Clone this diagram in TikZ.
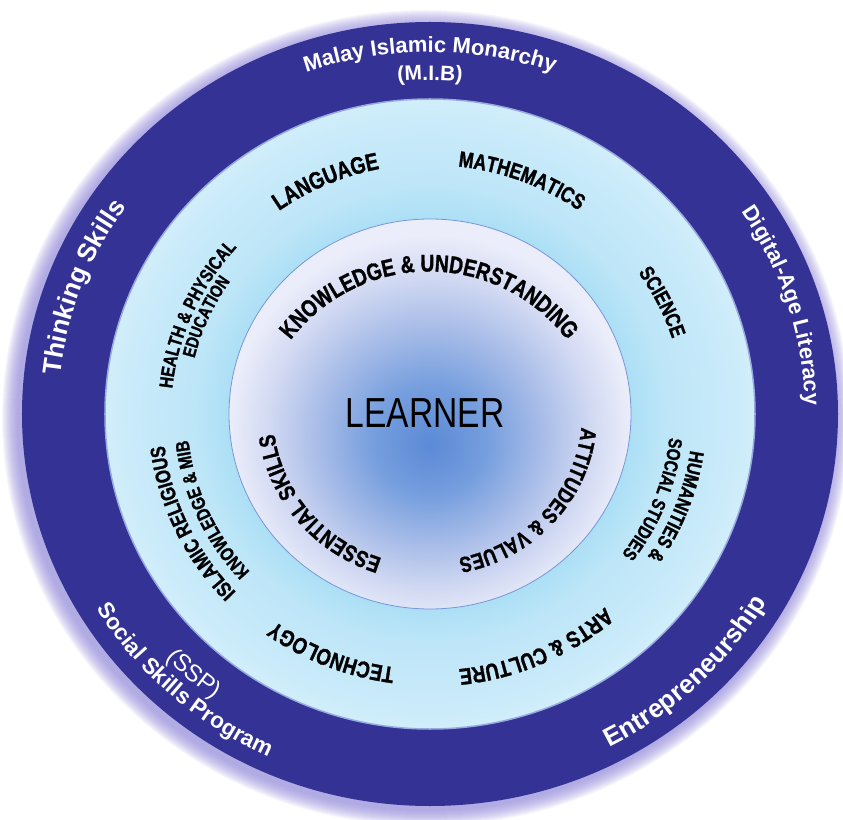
\documentclass[tikz,border=0pt]{standalone}
\usepackage{fontspec}
\setmainfont{Liberation Sans}
\newfontfamily\narrowfont[FakeStretch=0.8, BoldFeatures={FakeBold=1.3}]{Liberation Sans}
\usetikzlibrary{decorations.text}

\definecolor{ringblue}{RGB}{52,50,148}
\definecolor{ringglow}{RGB}{150,140,222}
\definecolor{ringline}{RGB}{150,170,225}
\definecolor{coreline}{RGB}{120,150,215}

\pgfdeclareradialshading{subjectshade}{\pgfpoint{0bp}{0bp}}{%
  rgb(0bp)=(0.64,0.86,0.96);
  rgb(15bp)=(0.66,0.87,0.96);
  rgb(18bp)=(0.74,0.90,0.97);
  rgb(23bp)=(0.79,0.92,0.98);
  rgb(25bp)=(0.82,0.93,0.98);
  rgb(50bp)=(0.82,0.93,0.98)}
\pgfdeclareradialshading{learnershade}{\pgfpoint{0bp}{-4bp}}{%
  rgb(0bp)=(0.36,0.54,0.84);
  rgb(7bp)=(0.46,0.62,0.87);
  rgb(14bp)=(0.66,0.74,0.91);
  rgb(20bp)=(0.82,0.85,0.95);
  rgb(25bp)=(0.92,0.93,0.98);
  rgb(50bp)=(0.92,0.93,0.98)}

\newcommand{\ellk}{0.965}
\newcommand{\labelfont}[1]{\fontsize{#1}{#1}\selectfont\narrowfont\bfseries}
\newcommand{\valuefont}[1]{\fontsize{#1}{#1}\selectfont\bfseries\color{white}}

% text on an arc, clockwise (tops outward) or counter-clockwise (tops inward)
\newcommand{\cwtext}[5]{%
  \path[decorate, decoration={text along path, text align=center, text={|#1|#2}}]
    ({#5*cos(#3+#4)},{\ellk*#5*sin(#3+#4)})
    arc[start angle={#3+#4}, end angle={#3-#4}, x radius=#5, y radius={\ellk*#5}];}
\newcommand{\ccwtext}[5]{%
  \path[decorate, decoration={text along path, text align=center, text={|#1|#2}}]
    ({#5*cos(#3-#4)},{\ellk*#5*sin(#3-#4)})
    arc[start angle={#3-#4}, end angle={#3+#4}, x radius=#5, y radius={\ellk*#5}];}

\begin{document}
\begin{tikzpicture}[x=1pt, y=1pt]
  \useasboundingbox (-430,-405) rectangle (413,414);
  \fill[white] (-430,-405) rectangle (413,414);

  % rings
  \foreach \g in {1,...,16}
    \fill[ringglow, opacity=0.07] (-4,-4) ellipse[x radius={408+\g}, y radius={392+\g}];
  \fill[ringblue] (0,0) ellipse[x radius=408, y radius=392];
  \shadedraw[shading=subjectshade, draw=ringline, line width=1.5pt] (0,0) ellipse[x radius=325, y radius=315];
  \shadedraw[shading=learnershade, draw=coreline, line width=0.8pt] (0,0) ellipse[x radius=201, y radius=195];

  \node (learner) at (-5,1) {\fontsize{42}{42}\selectfont\narrowfont LEARNER};

  % values ring
  \cwtext{\valuefont{22}}{Malay Islamic Monarchy}{90}{40}{375}
  \cwtext{\valuefont{21}}{(M.I.B)}{90}{20}{346}
  \cwtext{\valuefont{26}}{Thinking Skills}{159.5}{40}{372}
  \cwtext{\valuefont{22}}{Digital-Age Literacy}{17.5}{40}{375}
  \ccwtext{\valuefont{22.5}}{Social Skills Program}{228}{40}{390}
  \ccwtext{\fontsize{24}{24}\selectfont\color{white}}{(SSP)}{228.7}{20}{366}
  \ccwtext{\valuefont{26}}{Entrepreneurship}{-46}{40}{389}

  % subjects ring
  \cwtext{\labelfont{24}}{LANGUAGE}{113.7}{40}{259}
  \cwtext{\labelfont{22}}{MATHEMATICS}{69}{40}{258}
  \cwtext{\labelfont{21}}{SCIENCE}{26.3}{30}{254.5}
  \cwtext{\labelfont{20}}{HUMANITIES {\&}}{-21}{35}{263}
  \cwtext{\labelfont{19}}{SOCIAL STUDIES}{-21.3}{35}{240.5}
  \cwtext{\labelfont{23}}{ARTS {\&} CULTURE}{-66}{45}{266}
  \cwtext{\labelfont{23}}{TECHNOLOGY}{-112}{40}{265}
  \cwtext{\labelfont{21}}{ISLAMIC RELIGIOUS}{205}{45}{267.5}
  \cwtext{\labelfont{19}}{KNOWLEDGE {\&} MIB}{204}{45}{243}
  \cwtext{\labelfont{19}}{HEALTH {\&} PHYSICAL}{156.5}{45}{259}
  \cwtext{\labelfont{18}}{EDUCATION}{156}{30}{242.5}

  % learner circle
  \path[decorate, decoration={text along path, text align=center,
      text={|\labelfont{24}|KNOWLEDGE {\&} UNDERSTANDING}}]
    (-1,-31) ++(165:173.5) arc[start angle=165, end angle=15, radius=173.5];
  \cwtext{\labelfont{22}}{ATTITUDES {\&} VALUES}{-42}{50}{152}
  \cwtext{\labelfont{23}}{ESSENTIAL SKILLS}{219.5}{50}{157}
\end{tikzpicture}
\end{document}
